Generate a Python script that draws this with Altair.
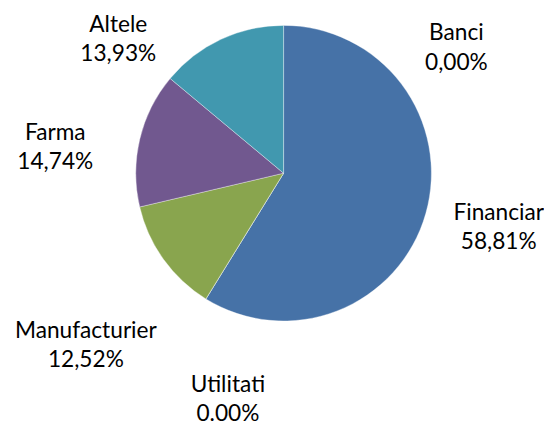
import altair as alt
import pandas as pd

# ---- data ----
categories = ["Banci", "Financiar", "Utilitati", "Manufacturier", "Farma", "Altele"]
values = [0.00, 58.81, 0.00, 12.52, 14.74, 13.93]
labels = ["0,00%", "58,81%", "0.00%", "12,52%", "14,74%", "13,93%"]
colors = ["#4F81BD", "#4672A7", "#AA4643", "#89A54E", "#71588F", "#4198AF"]

# ---- layout (label placement, polar: degrees clockwise from top, px radius) ----
label_angle = [54.1, 104.1, 193.8, 228.9, 276.4, 309.0]
label_radius = [216.5, 225.1, 236.9, 266.3, 233.2, 215.9]
CX, CY, R = 279.7, 164.5, 150
LINE_H = 29.5

df = pd.DataFrame({
    "cat": categories,
    "value": values,
    "order": list(range(len(categories))),
    "text": [f"{c}\n{l}" for c, l in zip(categories, labels)],
    "angle": label_angle,
    "rad": label_radius,
})

base = alt.Chart(df)

pie = base.mark_arc(outerRadius=R, stroke="white", strokeWidth=0.6, strokeOpacity=0.6).encode(
    theta=alt.Theta("value:Q", stack=True),
    order=alt.Order("order:Q"),
    color=alt.Color("cat:N", scale=alt.Scale(domain=categories, range=colors), legend=None),
    x=alt.value(CX),
    y=alt.value(CY),
)

text = base.mark_text(
    font="Lato", fontSize=23, color="#000000", align="center", baseline="middle",
    lineBreak="\n", lineHeight=LINE_H, dy=-LINE_H / 2,
).encode(
    theta=alt.Theta("angle:Q", stack=False, scale=alt.Scale(domain=[0, 360], range=[0, 6.283185307])),
    radius=alt.Radius("rad:Q", scale=None),
    text="text:N",
    x=alt.value(CX),
    y=alt.value(CY),
)

chart = alt.layer(pie, text).resolve_scale(theta="independent").properties(
    width=536, height=412, padding=0
).configure_view(stroke=None)

chart.save("out.html", embed_options={"renderer": "svg", "actions": False})
